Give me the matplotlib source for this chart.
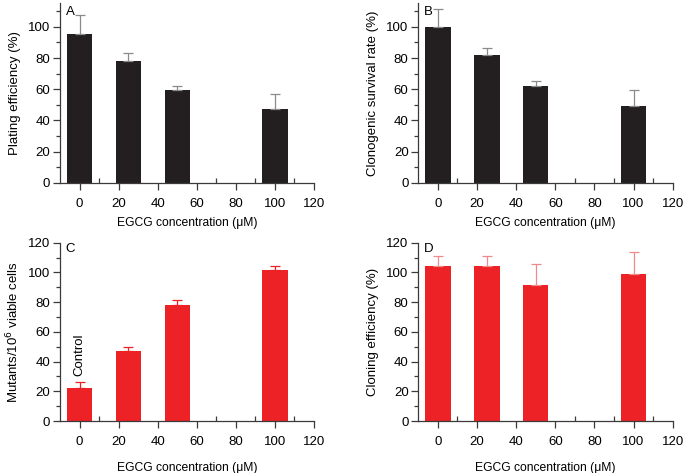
import matplotlib
matplotlib.use("Agg")
import matplotlib.pyplot as plt
from matplotlib.ticker import MultipleLocator

plt.rcParams['font.family'] = ['Liberation Sans', 'DejaVu Sans']

conc = [0, 25, 50, 100]
plating = [95.5, 78, 59.5, 47]
plating_err = [12, 5, 2.5, 10]
survival = [100, 82, 62.3, 49.2]
survival_err = [11.5, 4.7, 2.8, 10.3]
mutants = [22.3, 47, 78, 101.3]
mutants_err = [4, 3, 3.4, 3]
cloning = [104.5, 104.5, 91.8, 99.1]
cloning_err = [6.3, 6.7, 13.7, 14.4]

xticks = [0, 20, 40, 60, 80, 100, 120]
xlabel = "EGCG concentration (\u03bcM)"

black = "#231f20"
red = "#ed2226"

fig = plt.figure(figsize=(6.85, 4.73), dpi=100)
W, H = 685, 473

def make_ax(l, r, t, b):
    return fig.add_axes([l / W, 1 - b / H, (r - l) / W, (b - t) / H])

panels = [
    dict(box=(60, 314, 3.5, 182.7), y=plating, e=plating_err, c=black, ec="#8a8a8a",
         ylabel="Plating efficiency (%)", ylim=115, yticks=[0, 20, 40, 60, 80, 100], letter="A", ly=109.5),
    dict(box=(418.3, 672.7, 3.5, 182.7), y=survival, e=survival_err, c=black, ec="#8a8a8a",
         ylabel="Clonogenic survival rate (%)", ylim=115, yticks=[0, 20, 40, 60, 80, 100], letter="B", ly=109.5),
    dict(box=(60, 314, 242.7, 421), y=mutants, e=mutants_err, c=red, ec=red,
         ylabel="Mutants/10$^6$ viable cells", ylim=120, yticks=[0, 20, 40, 60, 80, 100, 120], letter="C", ly=115.5),
    dict(box=(418.3, 672.7, 242.7, 421), y=cloning, e=cloning_err, c=red, ec="#f08a8c",
         ylabel="Cloning efficiency (%)", ylim=120, yticks=[0, 20, 40, 60, 80, 100, 120], letter="D", ly=116),
]

for i, p in enumerate(panels):
    ax = make_ax(*p["box"])
    ax.bar(conc, p["y"], width=13, color=p["c"], zorder=2)
    ax.errorbar(conc, p["y"], yerr=[[0] * 4, p["e"]], fmt="none", ecolor=p["ec"],
                elinewidth=0.9, capsize=3.5, capthick=0.9, zorder=3)
    ax.set_xlim(-10, 120)
    ax.set_ylim(0, p["ylim"])
    ax.set_xticks(xticks)
    ax.set_yticks(p["yticks"])
    ax.set_xticks([10, 30, 50, 70, 90, 110], minor=True)
    ax.yaxis.set_minor_locator(MultipleLocator(10))
    for s in ["top", "right"]:
        ax.spines[s].set_visible(False)
    for s in ["left", "bottom"]:
        ax.spines[s].set_color("#3a3a3a")
        ax.spines[s].set_linewidth(0.9)
    ax.tick_params(axis="x", which="major", direction="out", length=5, width=0.9,
                   color="#3a3a3a", labelsize=9.5, pad=6)
    ax.tick_params(axis="x", which="minor", direction="in", length=3.5, width=0.9, color="#3a3a3a")
    ax.tick_params(axis="y", which="major", direction="out", length=5, width=0.9,
                   color="#3a3a3a", labelsize=9.5, pad=2)
    ax.tick_params(axis="y", which="minor", direction="out", length=3, width=0.9, color="#3a3a3a")
    ax.set_xlabel(xlabel, fontsize=8.7, labelpad=5 if i < 2 else 10)
    ax.set_ylabel(p["ylabel"], fontsize=9.5, labelpad=5)
    ax.text(-7, p["ly"], p["letter"], fontsize=9.5, ha="left", va="center")
    if p["letter"] == "C":
        ax.text(0, 30, "Control", rotation=90, fontsize=9.5, ha="center", va="bottom")

fig.savefig("out.png", dpi=100)
